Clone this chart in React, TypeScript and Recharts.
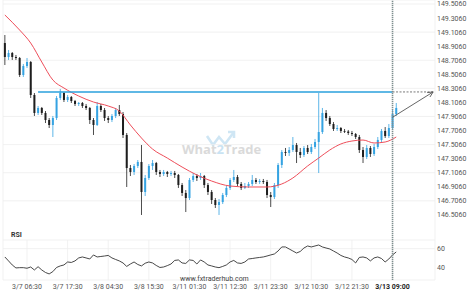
import React from "react";
import { Bar, CartesianGrid, ComposedChart, Line, ReferenceLine, XAxis, YAxis } from "recharts";

// hourly candles: [open, high, low, close]
const candles: number[][] = [
    [148.951, 149.065, 148.638, 148.752],
    [148.752, 148.852, 148.710, 148.809],
    [148.809, 148.823, 148.710, 148.752],
    [148.752, 148.781, 148.710, 148.738],
    [148.738, 148.752, 148.468, 148.496],
    [148.496, 148.653, 148.468, 148.624],
    [148.624, 148.738, 148.596, 148.681],
    [148.681, 148.695, 148.169, 148.212],
    [148.212, 148.240, 147.913, 147.956],
    [147.956, 148.055, 147.927, 148.027],
    [148.027, 148.041, 147.927, 147.956],
    [147.956, 147.984, 147.813, 147.856],
    [147.856, 147.884, 147.742, 147.785],
    [147.785, 147.913, 147.614, 147.884],
    [147.884, 148.197, 147.856, 148.169],
    [148.169, 148.297, 148.141, 148.240],
    [148.240, 148.254, 148.112, 148.141],
    [148.141, 148.212, 148.112, 148.183],
    [148.183, 148.197, 148.098, 148.126],
    [148.126, 148.141, 148.055, 148.084],
    [148.084, 148.112, 148.055, 148.098],
    [148.098, 148.112, 148.027, 148.055],
    [148.055, 148.084, 147.998, 148.027],
    [148.027, 148.041, 147.799, 147.856],
    [147.856, 147.884, 147.643, 147.785],
    [147.785, 148.112, 147.771, 148.055],
    [148.055, 148.084, 147.970, 147.998],
    [147.998, 148.027, 147.842, 147.884],
    [147.884, 147.913, 147.813, 147.856],
    [147.856, 147.941, 147.827, 147.913],
    [147.913, 148.027, 147.884, 147.998],
    [147.998, 148.069, 147.913, 147.941],
    [147.941, 147.970, 147.600, 147.643],
    [147.643, 147.671, 146.903, 147.173],
    [147.173, 147.216, 147.059, 147.116],
    [147.116, 147.230, 147.074, 147.202],
    [147.202, 147.287, 147.173, 147.259],
    [147.259, 147.500, 146.505, 146.832],
    [146.832, 147.074, 146.775, 147.031],
    [147.031, 147.230, 147.003, 147.202],
    [147.202, 147.287, 147.145, 147.244],
    [147.244, 147.259, 147.074, 147.116],
    [147.116, 147.145, 147.045, 147.088],
    [147.088, 147.145, 147.059, 147.116],
    [147.116, 147.131, 147.045, 147.088],
    [147.088, 147.131, 147.059, 147.102],
    [147.102, 147.131, 147.031, 147.074],
    [147.074, 147.088, 146.889, 146.931],
    [146.931, 146.960, 146.775, 146.818],
    [146.818, 146.860, 146.547, 146.746],
    [146.746, 147.031, 146.718, 147.003],
    [147.003, 147.102, 146.974, 147.059],
    [147.059, 147.088, 146.988, 147.031],
    [147.031, 147.102, 147.003, 147.059],
    [147.059, 147.074, 146.889, 146.931],
    [146.931, 146.960, 146.789, 146.832],
    [146.832, 146.860, 146.661, 146.718],
    [146.718, 146.746, 146.604, 146.647],
    [146.647, 146.732, 146.505, 146.689],
    [146.689, 146.818, 146.661, 146.789],
    [146.789, 146.917, 146.760, 146.889],
    [146.889, 147.031, 146.860, 147.003],
    [147.003, 147.145, 146.974, 147.045],
    [147.045, 147.074, 146.917, 146.946],
    [146.946, 146.974, 146.860, 146.889],
    [146.889, 146.960, 146.874, 146.917],
    [146.917, 146.974, 146.889, 146.946],
    [146.946, 147.074, 146.917, 147.003],
    [147.003, 147.031, 146.946, 146.974],
    [146.974, 147.017, 146.946, 146.988],
    [146.988, 147.017, 146.946, 146.974],
    [146.974, 147.003, 146.746, 146.789],
    [146.789, 146.832, 146.618, 146.760],
    [146.760, 146.960, 146.732, 146.931],
    [146.931, 147.244, 146.889, 147.216],
    [147.216, 147.429, 147.173, 147.401],
    [147.401, 147.458, 147.344, 147.387],
    [147.387, 147.472, 147.344, 147.429],
    [147.429, 147.614, 147.401, 147.500],
    [147.500, 147.529, 147.244, 147.401],
    [147.401, 147.458, 147.316, 147.358],
    [147.358, 147.486, 147.330, 147.458],
    [147.458, 147.500, 147.372, 147.401],
    [147.401, 147.515, 147.372, 147.472],
    [147.472, 147.586, 147.443, 147.543],
    [147.543, 148.240, 147.102, 147.685],
    [147.685, 148.027, 147.657, 147.956],
    [147.956, 147.998, 147.842, 147.884],
    [147.884, 147.913, 147.771, 147.799],
    [147.799, 147.827, 147.700, 147.728],
    [147.728, 147.785, 147.700, 147.742],
    [147.742, 147.756, 147.671, 147.700],
    [147.700, 147.728, 147.671, 147.692],
    [147.692, 147.714, 147.643, 147.671],
    [147.671, 147.700, 147.628, 147.657],
    [147.657, 147.671, 147.586, 147.614],
    [147.614, 147.643, 147.387, 147.429],
    [147.429, 147.472, 147.244, 147.330],
    [147.330, 147.500, 147.301, 147.458],
    [147.458, 147.486, 147.330, 147.372],
    [147.372, 147.515, 147.344, 147.472],
    [147.472, 147.614, 147.443, 147.572],
    [147.572, 147.728, 147.543, 147.700],
    [147.700, 147.756, 147.600, 147.628],
    [147.628, 147.799, 147.600, 147.742],
    [147.742, 147.998, 147.714, 147.941],
    [147.941, 148.098, 147.913, 148.027],
];

// moving average, read at a few candles
const maIndex = [0, 4, 7, 10, 13, 16, 20, 24, 28, 31, 34, 37, 40, 44, 48, 52, 56, 61, 66, 71, 75, 78, 82, 85, 88, 91, 94, 97, 100, 103, 106];
const maValues = [149.350, 149.136, 148.951, 148.681, 148.425, 148.311, 148.197, 148.112, 148.055, 147.984, 147.785, 147.600, 147.443, 147.315, 147.187, 147.074, 146.988, 146.917, 146.903, 146.903, 146.946, 147.031, 147.202, 147.315, 147.429, 147.515, 147.557, 147.571, 147.529, 147.543, 147.614];

const rsiValues = [
    51.4, 47.3, 43.1, 40.0, 40.3, 40.3, 39.7, 41.0, 37.9, 41.3,
    37.9, 35.3, 33.8, 36.2, 40.5, 42.1, 43.1, 46.2, 45.7, 47.3,
    50.4, 51.4, 50.4, 49.3, 53.5, 51.4, 51.9, 52.4, 53.0, 50.4,
    48.8, 47.3, 45.2, 41.6, 44.1, 46.2, 43.6, 42.1, 44.9, 46.2,
    45.2, 42.6, 40.5, 41.0, 42.4, 44.1, 47.8, 48.3, 45.2, 44.7,
    48.3, 47.8, 44.1, 48.3, 46.2, 43.1, 42.1, 41.0, 40.3, 41.6,
    43.1, 46.2, 47.8, 45.2, 44.7, 46.2, 49.3, 49.8, 50.4, 50.9,
    51.4, 52.4, 53.5, 54.5, 57.6, 61.8, 61.8, 59.7, 57.6, 55.5,
    57.1, 60.7, 62.8, 61.8, 62.8, 63.8, 61.8, 60.7, 59.7, 57.6,
    55.5, 53.0, 51.4, 50.4, 48.8, 45.2, 50.9, 51.4, 50.4, 47.3,
    50.4, 51.4, 49.8, 46.2, 49.3, 53.5, 56.6,
];

const timeLabels = ["3/7 06:30", "3/7 17:30", "3/8 04:30", "3/8 15:30", "3/11 01:30", "3/11 12:30", "3/11 23:30", "3/12 10:30", "3/12 21:30", "3/13 09:00"];
const labelIndex = [6, 17, 28, 39, 50, 61, 72, 83, 94, 105];
const priceTicks = [146.506, 146.706, 146.906, 147.106, 147.306, 147.506, 147.706, 147.906, 148.106, 148.306, 148.506, 148.706, 148.906, 149.106, 149.306, 149.506];
const rsiTicks = [40, 60];

const resistance = 148.255;
const signalIndex = 105; // candle where the breakout is flagged
const arrowStart = 147.895;
const slots = 117; // empty slots on the right leave room for the arrow

const UP = "#35a3e2";
const DOWN = "#1e1e1e";

const chartData = Array.from({ length: slots }, (_, i) => {
    const k = candles[i];
    const m = maIndex.indexOf(i);
    return {
        i,
        o: k ? k[0] : null,
        h: k ? k[1] : null,
        l: k ? k[2] : null,
        c: k ? k[3] : null,
        range: k ? [k[2], k[1]] : null,
        ma: m >= 0 ? maValues[m] : null,
        rsi: i < rsiValues.length ? rsiValues[i] : null,
    };
});

const Candle = (props: any) => {
    const { x, y, width, height, payload } = props;
    if (!payload || payload.o == null) return null;
    const { o, h, l, c } = payload;
    const k = h - l > 0 ? height / (h - l) : 0;
    const cx = x + width / 2;
    const top = y + (h - Math.max(o, c)) * k;
    const bot = y + (h - Math.min(o, c)) * k;
    const color = c >= o ? UP : DOWN;
    return (
        <g>
            <line x1={cx} x2={cx} y1={y} y2={y + height} stroke={color} strokeWidth={0.8} />
            <rect x={cx - 1} y={top} width={2} height={Math.max(bot - top, 0.8)} fill={color} />
        </g>
    );
};

const Arrow = ({ x1, y1, x2, y2 }: any) => {
    const ang = Math.atan2(y2 - y1, x2 - x1);
    const s = 6;
    const a = `${x2 - s * Math.cos(ang - 0.45)},${y2 - s * Math.sin(ang - 0.45)}`;
    const b = `${x2 - s * Math.cos(ang + 0.45)},${y2 - s * Math.sin(ang + 0.45)}`;
    return (
        <g>
            <line x1={x1} y1={y1} x2={x2} y2={y2} stroke="#555" strokeWidth={0.9} />
            <path d={`M${a}L${x2},${y2}L${b}`} stroke="#555" strokeWidth={0.9} fill="none" />
        </g>
    );
};

const TimeTick = ({ x, y, payload }: any) => {
    const n = labelIndex.indexOf(payload.value);
    const last = n === labelIndex.length - 1;
    return (
        <text x={x} y={y} dy="0.71em" textAnchor="middle" fontSize={7} fontFamily="Roboto"
            fontWeight={last ? 700 : 400} fill={last ? "#222" : "#555"}>
            {timeLabels[n]}
        </text>
    );
};

const axisTick = { fontSize: 7, fill: "#555", fontFamily: "Roboto" };

const App = () => {
    return (
        <div style={{ position: "absolute", left: 0, top: 0, width: 474, height: 296, background: "#fff", fontFamily: "Roboto" }}>
            {/* watermark */}
            <svg style={{ position: "absolute", left: 205, top: 129 }} width={32} height={20}>
                <polyline points="2,7 8,16 14,8 20,15 29,3" fill="none" stroke="#cfe6f4" strokeWidth={2.6} />
                <polyline points="23,3 29,3 29,9" fill="none" stroke="#cfe6f4" strokeWidth={2.6} />
            </svg>
            <div style={{ position: "absolute", left: 182, top: 140, fontSize: 13, fontWeight: 700, color: "#dadada", fontFamily: "Open Sans" }}>
                What<span style={{ color: "#c9e3f3" }}>2</span>Trade
            </div>

            <div style={{ position: "absolute", left: 0, top: 0 }}>
                <ComposedChart width={474} height={240} data={chartData} margin={{ top: 0, right: 0, bottom: 0, left: 3 }}>
                    <CartesianGrid stroke="#ededed" strokeWidth={0.8} />
                    <XAxis dataKey="i" type="category" scale="band" ticks={labelIndex} interval={0}
                        height={0} tick={false} axisLine={false} tickLine={false} />
                    <YAxis orientation="right" width={39} domain={[146.149, 149.563]} allowDataOverflow
                        ticks={priceTicks} tickFormatter={(v: number) => v.toFixed(4)}
                        tick={axisTick} tickSize={0} tickMargin={2} axisLine={false} tickLine={false} />
                    <Bar dataKey="range" shape={Candle} isAnimationActive={false} />
                    <Line dataKey="ma" type="monotone" stroke="#ee4e5a" strokeWidth={1} dot={false} connectNulls isAnimationActive={false} />
                    <ReferenceLine segment={[{ x: 9, y: resistance }, { x: signalIndex, y: resistance }]} stroke="#2aa0dc" strokeWidth={1.6} />
                    <ReferenceLine segment={[{ x: signalIndex, y: resistance }, { x: slots - 1, y: resistance }]} stroke="#555" strokeWidth={0.8} strokeDasharray="2 1.5" />
                    <ReferenceLine x={signalIndex} stroke="#7f8f8f" strokeWidth={1.6} strokeDasharray="1.2 0.8" />
                    <ReferenceLine segment={[{ x: signalIndex, y: arrowStart }, { x: slots - 1, y: resistance }]} shape={Arrow} />
                </ComposedChart>
            </div>

            <div style={{ position: "absolute", left: 0, top: 240 }}>
                <ComposedChart width={474} height={56} data={chartData} margin={{ top: 0, right: 0, bottom: 0, left: 3 }}>
                    <CartesianGrid stroke="#ededed" strokeWidth={0.8} />
                    <XAxis dataKey="i" type="category" scale="band" ticks={labelIndex} interval={0}
                        height={16} tick={<TimeTick />} axisLine={false} tickLine={false} tickSize={0} tickMargin={4} />
                    <YAxis orientation="right" width={39} domain={[27.5, 69]} allowDataOverflow ticks={rsiTicks}
                        tick={axisTick} tickSize={0} tickMargin={2} axisLine={false} tickLine={false} />
                    <Line dataKey="rsi" type="linear" stroke="#333" strokeWidth={0.9} dot={false} isAnimationActive={false} />
                    <ReferenceLine x={signalIndex} stroke="#7f8f8f" strokeWidth={1.6} strokeDasharray="1.2 0.8" />
                </ComposedChart>
            </div>

            <div style={{ position: "absolute", left: 11, top: 231, fontSize: 7, fontWeight: 700, color: "#333" }}>RSI</div>
            <div style={{ position: "absolute", left: 180, top: 275, fontSize: 7, color: "#444" }}>www.fxtraderhub.com</div>
        </div>
    );
};

export default App;
